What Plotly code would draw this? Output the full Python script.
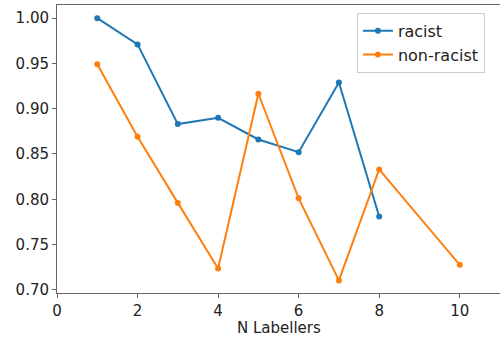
import plotly.graph_objects as go

x_racist = [1, 2, 3, 4, 5, 6, 7, 8]
y_racist = [1.000, 0.971, 0.883, 0.890, 0.866, 0.852, 0.929, 0.781]
x_nonracist = [1, 2, 3, 4, 5, 6, 7, 8, 10]
y_nonracist = [0.949, 0.869, 0.796, 0.7236, 0.9165, 0.801, 0.7104, 0.833, 0.7276]
x_ticks = [0, 2, 4, 6, 8, 10]
y_ticks = [0.70, 0.75, 0.80, 0.85, 0.90, 0.95, 1.00]

fig = go.Figure()
fig.add_trace(go.Scatter(x=x_racist, y=y_racist, mode="lines+markers", name="racist",
                         line=dict(color="#1f77b4", width=2), marker=dict(size=6, color="#1f77b4")))
fig.add_trace(go.Scatter(x=x_nonracist, y=y_nonracist, mode="lines+markers", name="non-racist",
                         line=dict(color="#ff7f0e", width=2), marker=dict(size=6, color="#ff7f0e")))

axis_common = dict(showgrid=False, zeroline=False, showline=True, linecolor="#666666", linewidth=1,
                   ticks="outside", ticklen=4, tickcolor="#666666", tickwidth=1, automargin=False,
                   tickfont=dict(family="DejaVu Sans", size=15, color="#222222"))
fig.update_layout(
    width=500, height=340,
    margin=dict(l=57, r=0, t=5, b=47, autoexpand=False),
    paper_bgcolor="white", plot_bgcolor="white",
    font=dict(family="DejaVu Sans", size=15, color="#222222"),
    xaxis=dict(range=[0, 11], tickvals=x_ticks, ticktext=[str(v) for v in x_ticks], mirror=True,
               **axis_common),
    yaxis=dict(range=[0.6965, 1.0145], tickvals=y_ticks, ticktext=[f"{v:.2f}" for v in y_ticks], mirror=True,
               **axis_common),
    legend=dict(x=0.677, y=0.973, xanchor="left", yanchor="top", bgcolor="rgba(255,255,255,0.8)",
                bordercolor="#cccccc", borderwidth=1, font=dict(size=16), itemwidth=30,
                tracegroupgap=0),
    showlegend=True,
    annotations=[dict(text="N Labellers", xref="paper", yref="paper", x=0.5, y=-0.1215,
                      xanchor="center", yanchor="middle", showarrow=False,
                      font=dict(family="DejaVu Sans", size=15, color="#222222"))],
)
fig.write_html("out.html", config={"displayModeBar": False},
               post_script="document.body.style.margin='0';document.body.style.padding='0';document.body.style.overflow='hidden';")
